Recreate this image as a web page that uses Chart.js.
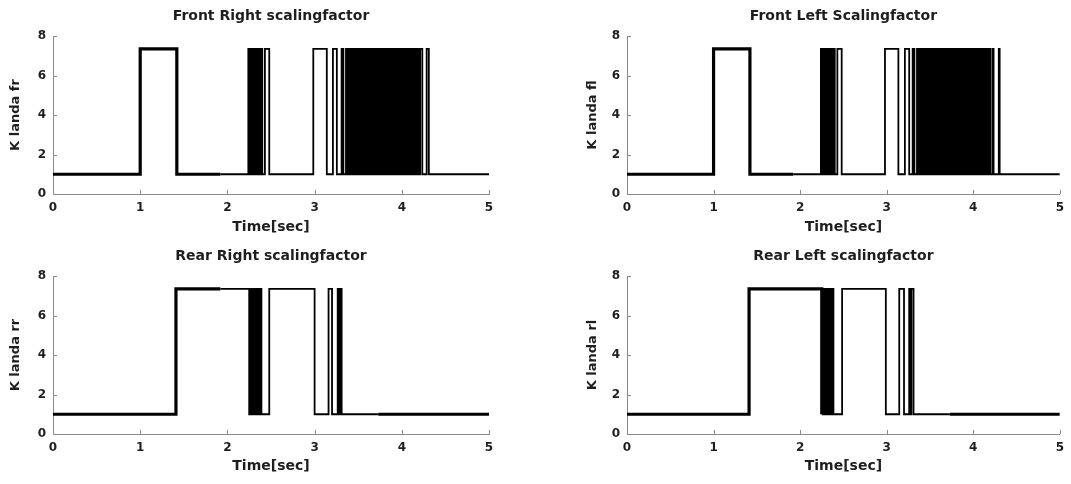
<!DOCTYPE html>
<html>
<head>
<meta charset="utf-8">
<script src="https://cdn.jsdelivr.net/npm/chart.js@4.4.1/dist/chart.umd.min.js"></script>
<style>
html,body{margin:0;padding:0;background:#fff;overflow:hidden;width:1071px;height:484px;}
canvas{position:absolute;display:block;}
</style>
</head>
<body>
<canvas id="cFR" width="535" height="242" style="left:0;top:0;width:535px;height:242px"></canvas>
<canvas id="cFL" width="536" height="242" style="left:535px;top:0;width:536px;height:242px"></canvas>
<canvas id="cRR" width="535" height="242" style="left:0;top:242px;width:535px;height:242px"></canvas>
<canvas id="cRL" width="536" height="242" style="left:535px;top:242px;width:536px;height:242px"></canvas>
<script>
// ---- axis ticks ----
const xTickValues = [0, 1, 2, 3, 4, 5];
const yTickValues = [0, 2, 4, 6, 8];

// ---- chart titles / labels ----
const titles = ["Front Right scalingfactor", "Front Left Scalingfactor", "Rear Right scalingfactor", "Rear Left scalingfactor"];
const yLabels = ["K landa fr", "K landa fl", "K landa rr", "K landa rl"];
const xLabel = "Time[sec]";

// ---- Front Right: switching instants [sec] and K value from that instant on ----
const frTime = [
  0, 1.00, 1.42, 1.92, 2.24, 2.25, 2.26, 2.27, 2.28, 2.29,
  2.30, 2.31, 2.32, 2.33, 2.34, 2.35, 2.36, 2.37, 2.38, 2.40,
  2.43, 2.48, 2.985, 3.14, 3.21, 3.255, 3.31, 3.33, 3.36, 3.375,
  3.39, 3.405, 3.42, 3.435, 3.45, 3.465, 3.48, 3.495, 3.51, 3.525,
  3.54, 3.555, 3.57, 3.585, 3.60, 3.615, 3.63, 3.645, 3.66, 3.675,
  3.69, 3.705, 3.72, 3.735, 3.75, 3.765, 3.78, 3.795, 3.81, 3.825,
  3.84, 3.855, 3.87, 3.885, 3.90, 3.915, 3.93, 3.945, 3.96, 3.975,
  3.99, 4.005, 4.02, 4.035, 4.05, 4.065, 4.08, 4.095, 4.11, 4.125,
  4.14, 4.155, 4.17, 4.19, 4.21, 4.235, 4.285, 4.31, 5
];
const frK = [
  1, 7.35, 1, 1, 7.35, 1, 7.35, 1, 7.35, 1,
  7.35, 1, 7.35, 1, 7.35, 1, 7.35, 1, 7.35, 1,
  7.35, 1, 7.35, 1, 7.35, 1, 7.35, 1, 7.35, 1,
  7.35, 1, 7.35, 1, 7.35, 1, 7.35, 1, 7.35, 1,
  7.35, 1, 7.35, 1, 7.35, 1, 7.35, 1, 7.35, 1,
  7.35, 1, 7.35, 1, 7.35, 1, 7.35, 1, 7.35, 1,
  7.35, 1, 7.35, 1, 7.35, 1, 7.35, 1, 7.35, 1,
  7.35, 1, 7.35, 1, 7.35, 1, 7.35, 1, 7.35, 1,
  7.35, 1, 7.35, 1, 7.35, 1, 7.35, 1, 1
];

// ---- Front Left ----
const flTime = [
  0, 1.00, 1.42, 1.92, 2.24, 2.25, 2.26, 2.27, 2.28, 2.29,
  2.30, 2.31, 2.32, 2.33, 2.34, 2.35, 2.36, 2.37, 2.38, 2.40,
  2.43, 2.48, 2.98, 3.135, 3.21, 3.26, 3.30, 3.32, 3.35, 3.365,
  3.38, 3.395, 3.41, 3.425, 3.44, 3.455, 3.47, 3.485, 3.50, 3.515,
  3.53, 3.545, 3.56, 3.575, 3.59, 3.605, 3.62, 3.635, 3.65, 3.665,
  3.68, 3.695, 3.71, 3.725, 3.74, 3.755, 3.77, 3.785, 3.80, 3.815,
  3.83, 3.845, 3.86, 3.875, 3.89, 3.905, 3.92, 3.935, 3.95, 3.965,
  3.98, 3.995, 4.01, 4.025, 4.04, 4.055, 4.07, 4.085, 4.10, 4.115,
  4.13, 4.145, 4.16, 4.175, 4.19, 4.20, 4.225, 4.235, 4.295, 4.305,
  5
];
const flK = [
  1, 7.35, 1, 1, 7.35, 1, 7.35, 1, 7.35, 1,
  7.35, 1, 7.35, 1, 7.35, 1, 7.35, 1, 7.35, 1,
  7.35, 1, 7.35, 1, 7.35, 1, 7.35, 1, 7.35, 1,
  7.35, 1, 7.35, 1, 7.35, 1, 7.35, 1, 7.35, 1,
  7.35, 1, 7.35, 1, 7.35, 1, 7.35, 1, 7.35, 1,
  7.35, 1, 7.35, 1, 7.35, 1, 7.35, 1, 7.35, 1,
  7.35, 1, 7.35, 1, 7.35, 1, 7.35, 1, 7.35, 1,
  7.35, 1, 7.35, 1, 7.35, 1, 7.35, 1, 7.35, 1,
  7.35, 1, 7.35, 1, 7.35, 1, 7.35, 1, 7.35, 1,
  1
];

// ---- Rear Right ----
const rrTime = [
  0, 1.41, 1.92, 2.25, 2.26, 2.27, 2.28, 2.29, 2.30, 2.31,
  2.32, 2.33, 2.34, 2.35, 2.36, 2.37, 2.38, 2.39, 2.48, 3.00,
  3.16, 3.20, 3.265, 3.28, 3.29, 3.31, 3.73, 5
];
const rrK = [
  1, 7.35, 7.35, 1, 7.35, 1, 7.35, 1, 7.35, 1,
  7.35, 1, 7.35, 1, 7.35, 1, 7.35, 1, 7.35, 1,
  7.35, 1, 7.35, 1, 7.35, 1, 1, 1
];

// ---- Rear Left ----
const rlTime = [
  0, 1.41, 1.905, 2.25, 2.26, 2.27, 2.28, 2.29, 2.30, 2.31,
  2.32, 2.33, 2.34, 2.35, 2.36, 2.37, 2.375, 2.385, 2.485, 2.99,
  3.145, 3.20, 3.26, 3.275, 3.285, 3.31, 3.73, 5
];
const rlK = [
  1, 7.35, 7.35, 1, 7.35, 1, 7.35, 1, 7.35, 1,
  7.35, 1, 7.35, 1, 7.35, 1, 7.35, 1, 7.35, 1,
  7.35, 1, 7.35, 1, 7.35, 1, 1, 1
];

// time spans drawn with the heavier trace
const frontHeavy = [[0, 1.92]];
const rearHeavy = [[0, 1.92], [3.73, 5.01]];

const TXT = '#1e1e1e';
const AXIS = '#8a8a8a';
const FAM = "'DejaVu Sans', 'Liberation Sans', Arial, sans-serif";

const innerTicks = {
  id: 'innerTicks',
  afterDatasetsDraw(chart) {
    const {ctx, chartArea: a, scales: {x, y}} = chart;
    ctx.save();
    ctx.strokeStyle = AXIS;
    ctx.lineWidth = 1;
    ctx.beginPath();
    x.ticks.forEach(t => {
      const p = Math.round(x.getPixelForValue(t.value)) + 0.5;
      ctx.moveTo(p, a.bottom); ctx.lineTo(p, a.bottom - 4);
    });
    y.ticks.forEach(t => {
      const p = Math.round(y.getPixelForValue(t.value)) + 0.5;
      ctx.moveTo(a.left, p); ctx.lineTo(a.left + 4, p);
    });
    ctx.stroke();
    ctx.restore();
  }
};

function inSpans(t, spans) {
  return spans.some(s => t >= s[0] && t < s[1]);
}

function makeChart(id, cfg) {
  const pts = cfg.time.map((t, i) => ({x: t, y: cfg.k[i]}));
  return new Chart(document.getElementById(id), {
    type: 'line',
    data: {
      datasets: [{
        data: pts,
        stepped: true,
        borderColor: '#000',
        borderWidth: 1.8,
        borderJoinStyle: 'miter',
        pointRadius: 0,
        fill: false,
        segment: {
          borderWidth: c => inSpans(cfg.time[c.p0DataIndex], cfg.heavy) ? 3.2 : 1.8
        }
      }]
    },
    options: {
      responsive: false,
      animation: false,
      devicePixelRatio: 1,
      events: [],
      layout: {padding: {left: cfg.padL, right: cfg.padR, top: 0, bottom: 0}},
      plugins: {
        legend: {display: false},
        tooltip: {enabled: false},
        title: {
          display: true,
          text: cfg.title,
          fullSize: false,
          color: TXT,
          font: {family: FAM, weight: 'bold', size: 14},
          padding: {top: cfg.tTop, bottom: cfg.tBot}
        }
      },
      scales: {
        x: {
          type: 'linear',
          min: 0, max: 5,
          afterBuildTicks: s => { s.ticks = xTickValues.map(v => ({value: v})); },
          afterFit: s => { s.height = cfg.xH; },
          grid: {display: false, drawTicks: false},
          border: {display: true, color: AXIS, width: 1},
          ticks: {color: TXT, padding: 7, maxRotation: 0, autoSkip: false,
                  font: {family: FAM, weight: 'bold', size: 12}},
          title: {display: true, text: xLabel, color: TXT,
                  font: {family: FAM, weight: 'bold', size: 14},
                  padding: {top: 0, bottom: cfg.xtPad}}
        },
        y: {
          type: 'linear',
          min: 0, max: 8,
          afterBuildTicks: s => { s.ticks = yTickValues.map(v => ({value: v})); },
          afterFit: s => { s.width = cfg.yW; },
          grid: {display: false, drawTicks: false},
          border: {display: true, color: AXIS, width: 1},
          ticks: {color: TXT, padding: 7, autoSkip: false,
                  font: {family: FAM, weight: 'bold', size: 12}},
          title: {display: true, text: cfg.ylabel, color: TXT,
                  font: {family: FAM, weight: 'bold', size: 13},
                  padding: {top: 8, bottom: 0}}
        }
      }
    },
    plugins: [innerTicks]
  });
}

makeChart('cFR', {time: frTime, k: frK, heavy: frontHeavy, title: titles[0], ylabel: yLabels[0],
  padL: 0, yW: 53, padR: 46, tTop: 7.6, tBot: 11.6, xH: 48, xtPad: 6.6});
makeChart('cFL', {time: flTime, k: flK, heavy: frontHeavy, title: titles[1], ylabel: yLabels[1],
  padL: 42, yW: 50, padR: 8, tTop: 7.6, tBot: 11.6, xH: 48, xtPad: 6.6});
makeChart('cRR', {time: rrTime, k: rrK, heavy: rearHeavy, title: titles[2], ylabel: yLabels[2],
  padL: 0, yW: 53, padR: 46, tTop: 5.6, tBot: 11.6, xH: 50, xtPad: 9.6});
makeChart('cRL', {time: rlTime, k: rlK, heavy: rearHeavy, title: titles[3], ylabel: yLabels[3],
  padL: 42, yW: 50, padR: 8, tTop: 5.6, tBot: 11.6, xH: 50, xtPad: 9.6});
</script>
</body>
</html>
